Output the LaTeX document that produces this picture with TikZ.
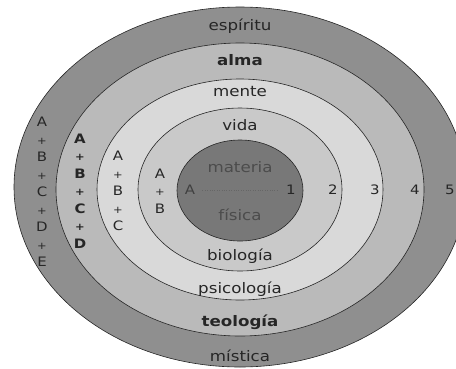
\documentclass[tikz,border=0pt]{standalone}
\usepackage{fontspec}
\setmainfont{DejaVu Sans}[FakeStretch=1.15]
\usetikzlibrary{positioning}

\definecolor{espiritugray}{gray}{0.56}
\definecolor{almagray}{gray}{0.73}
\definecolor{mentegray}{gray}{0.85}
\definecolor{vidagray}{gray}{0.79}
\definecolor{materiagray}{gray}{0.47}

\newcommand{\ringplus}{{\fontsize{10}{10}\selectfont+}}

\begin{document}
\begin{tikzpicture}[
x=1pt,
y=-1pt,
ring/.style={
draw=black!85,
line width=0.6pt
},
layer/.style={
font=\fontsize{14.5}{16}\selectfont,
text=black!85,
inner sep=1pt
},
boldlayer/.style={
layer,
font=\bfseries\fontsize{14.5}{16}\selectfont
},
stack/.style={
align=center,
inner sep=0pt,
font=\fontsize{13}{17.5}\selectfont,
text=black!85
},
num/.style={
font=\fontsize{13}{15}\selectfont,
text=black!85,
inner sep=1pt
}
]

\useasboundingbox (0,0) rectangle (456,368);

%%%%%%%%%%%%%%%%%%%%%%%%%%%%%%%%%%%%%%%%%%%%%
% Rings
%%%%%%%%%%%%%%%%%%%%%%%%%%%%%%%%%%%%%%%%%%%%%

\path[ring,fill=espiritugray] (240,187) ellipse [x radius=226pt, y radius=180pt];

\path[ring,fill=almagray] (240,189.5) ellipse [x radius=184pt, y radius=146.5pt];

\path[ring,fill=mentegray] (240,189.5) ellipse [x radius=143pt, y radius=110.5pt];

\path[ring,fill=vidagray] (240,189.5) ellipse [x radius=102pt, y radius=81.5pt];

\path[ring,fill=materiagray] (240,190.5) ellipse [x radius=63pt, y radius=50.5pt];

%%%%%%%%%%%%%%%%%%%%%%%%%%%%%%%%%%%%%%%%%%%%%
% Layer names
%%%%%%%%%%%%%%%%%%%%%%%%%%%%%%%%%%%%%%%%%%%%%

\node[layer] (espiritu) at (240,26) {espíritu};
\node[boldlayer] (alma) at (240,60) {alma};
\node[layer] (mente) at (240,92) {mente};
\node[layer] (vida) at (240,125) {vida};
\node[layer,text=black!70] (materia) at (240,167) {materia};
\node[layer,text=black!70] (fisica) at (240,215) {física};
\node[layer] (biologia) at (240,256) {biología};
\node[layer] (psicologia) at (240,289) {psicología};
\node[boldlayer] (teologia) at (240,322) {teología};
\node[layer] (mistica) at (240,356) {mística};

%%%%%%%%%%%%%%%%%%%%%%%%%%%%%%%%%%%%%%%%%%%%%
% Sums
%%%%%%%%%%%%%%%%%%%%%%%%%%%%%%%%%%%%%%%%%%%%%

\node[stack] (sumab) at (160,191)
{A\\\ringplus\\B};

\node[stack] (sumabc) at (118,191)
{A\\\ringplus\\B\\\ringplus\\C};

\node[stack,font=\bfseries\fontsize{13}{17.5}\selectfont] (sumabcd) at (80,191)
{A\\\ringplus\\B\\\ringplus\\C\\\ringplus\\D};

\node[stack] (sumabcde) at (42,192)
{A\\\ringplus\\B\\\ringplus\\C\\\ringplus\\D\\\ringplus\\E};

%%%%%%%%%%%%%%%%%%%%%%%%%%%%%%%%%%%%%%%%%%%%%
% Scale
%%%%%%%%%%%%%%%%%%%%%%%%%%%%%%%%%%%%%%%%%%%%%

\node[num,text=black!75] (start) at (190,190) {A};
\node[num] (one) at (291,190) {1};
\node[num] (two) at (333,190) {2};
\node[num] (three) at (375,190) {3};
\node[num] (four) at (415,190) {4};
\node[num] (five) at (450,190) {5};

\draw[dotted,black!60,shorten <=6pt,shorten >=8pt] (start)--(one);

\end{tikzpicture}
\end{document}
